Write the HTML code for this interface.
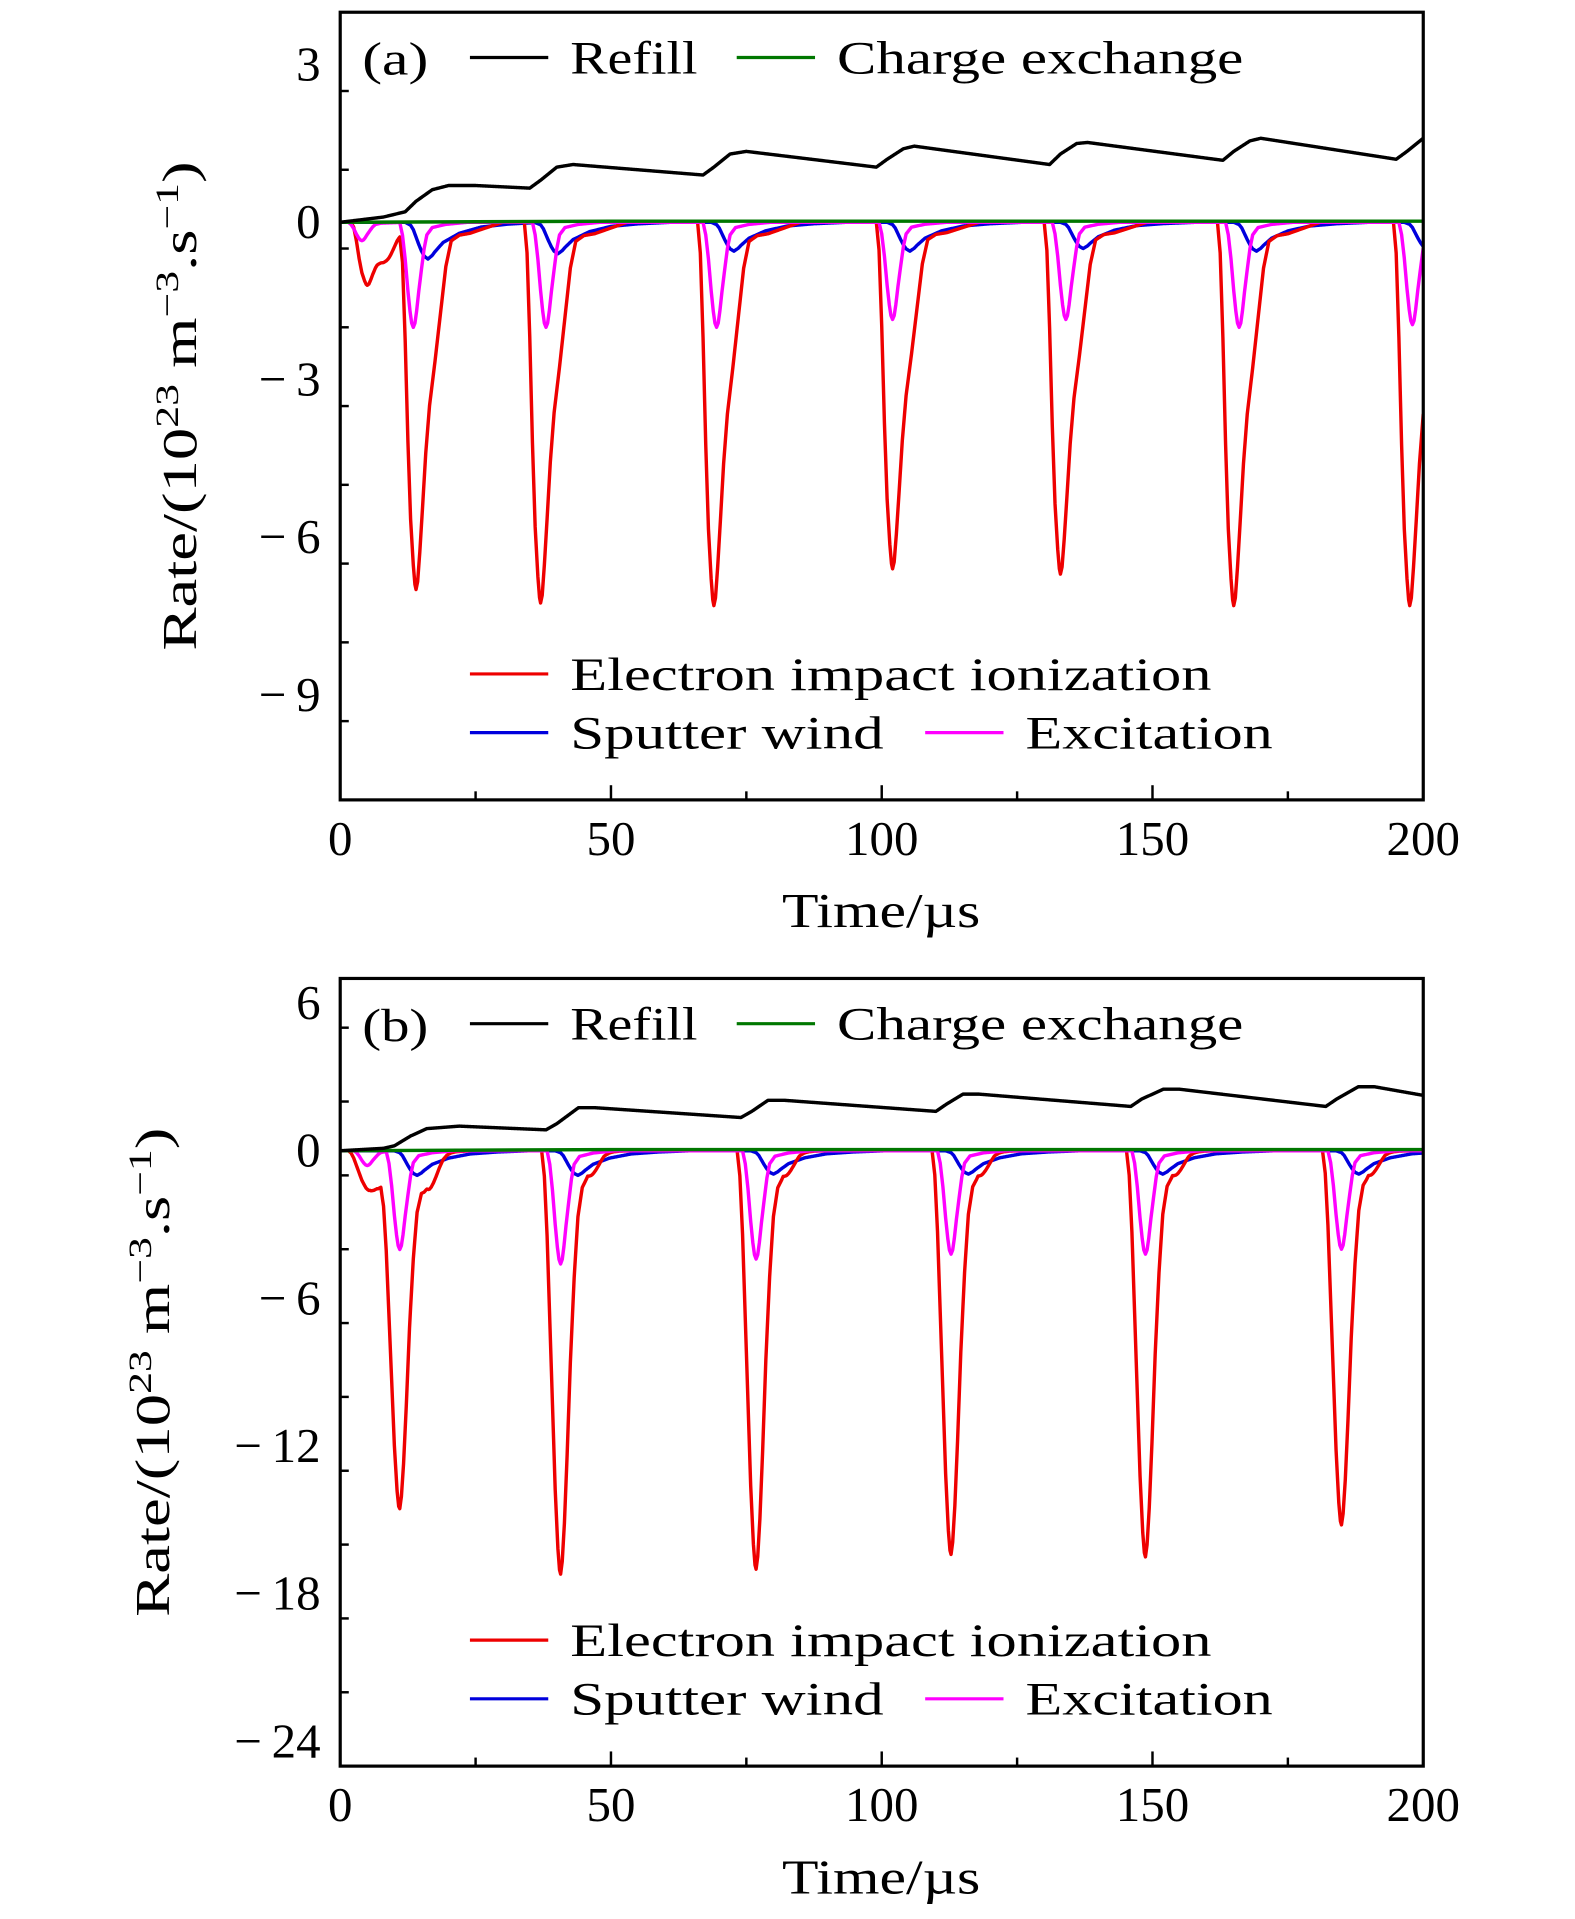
<!DOCTYPE html>
<html><head><meta charset="utf-8"><style>
html,body{margin:0;padding:0;background:#fff}
svg{display:block}
text{font-family:"Liberation Serif","DejaVu Serif",serif;fill:#000}
</style></head><body>
<svg id="fig" width="1575" height="1919" viewBox="0 0 1287 1569" preserveAspectRatio="none" xmlns="http://www.w3.org/2000/svg">
</svg>
<script>
// ---------- Panel (a) data ----------
const aTicksX = [0, 50, 100, 150, 200];
const aTicksY = [3, 0, -3, -6, -9];
const aTickLabelsY = ["3", "0", "\u22123", "\u22126", "\u22129"];
const aRedTimes = [5, 9, 14, 37, 69, 102, 133, 165, 197.5];
const aRedDepths = [-1.2, -0.3, -6.9, -7.25, -7.3, -6.6, -6.7, -7.3, -7.3];
const aMagTimes = [4, 13.5, 38, 69.5, 102, 134, 166, 198];
const aMagDepths = [-0.35, -2.0, -2.0, -2.0, -1.85, -1.85, -2.0, -1.95];
const aBlueTimes = [13, 37, 69.5, 102, 134, 166, 197.5];
const aBlueDepths = [-0.7, -0.6, -0.55, -0.55, -0.5, -0.55, -0.5];
const aRefillT = [0, 8, 12, 14, 17, 20, 25, 35, 37, 40, 43, 67, 69, 72, 75, 99, 101, 104, 106, 131, 133, 136, 138, 163, 165, 168, 170, 195, 197, 200];
const aRefillV = [0, 0.1, 0.2, 0.4, 0.62, 0.7, 0.7, 0.65, 0.8, 1.05, 1.1, 0.9, 1.05, 1.3, 1.35, 1.05, 1.2, 1.4, 1.45, 1.1, 1.3, 1.5, 1.52, 1.18, 1.35, 1.55, 1.6, 1.2, 1.35, 1.6];
const aChargeT = [0, 50, 100, 150, 200];
const aChargeV = [0, 0.02, 0.02, 0.02, 0.02];

// ---------- Panel (b) data ----------
const bTicksX = [0, 50, 100, 150, 200];
const bTicksY = [6, 0, -6, -12, -18, -24];
const bTickLabelsY = ["6", "0", "\u22126", "\u221212", "\u221218", "\u221224"];
const bRedTimes = [5, 8, 11, 16.5, 40.7, 46.5, 76.8, 82.5, 112.8, 118.5, 148.7, 154.5, 184.9, 190.5];
const bRedDepths = [-1.5, -1.1, -14.3, -1.2, -17.2, -0.6, -17.0, -0.6, -16.4, -0.6, -16.5, -0.6, -15.2, -0.6];
const bMagTimes = [5, 11, 40.7, 76.8, 112.8, 148.7, 184.9];
const bMagDepths = [-0.6, -4.0, -4.6, -4.4, -4.2, -4.2, -4.0];
const bBlueTimes = [11, 40.7, 76.8, 112.8, 148.7, 184.9];
const bBlueDepths = [-1.0, -1.0, -0.95, -0.95, -0.95, -0.95];
const bRefillT = [0, 8, 10, 13, 16, 22, 38, 40, 44, 47, 74, 76, 79, 82, 110, 112, 115, 118, 146, 148, 152, 155, 182, 184, 188, 191, 200];
const bRefillV = [0, 0.1, 0.2, 0.6, 0.9, 1.0, 0.85, 1.1, 1.75, 1.75, 1.35, 1.6, 2.05, 2.05, 1.6, 1.9, 2.3, 2.3, 1.8, 2.1, 2.5, 2.5, 1.8, 2.1, 2.6, 2.6, 2.25];
const bChargeT = [0, 50, 100, 150, 200];
const bChargeV = [0, 0.05, 0.05, 0.05, 0.05];

// pulse profile shapes (offset µs, fraction of depth)
const aRedShapeDt = [-3, -2.5, -2, -1.5, -1, -0.5, -0.2, 0, 0.3, 0.7, 1.2, 1.8, 2.5, 3.5, 4.5, 5.5, 6.5, 8, 10, 13, 16];
const aRedShapeF  = [0, 0.08, 0.3, 0.58, 0.8, 0.93, 0.985, 1, 0.98, 0.9, 0.78, 0.63, 0.5, 0.38, 0.25, 0.12, 0.05, 0.035, 0.03, 0.015, 0];
const bRedShapeDt = [-3.5, -3, -2.5, -2, -1.5, -1, -0.5, -0.2, 0, 0.3, 0.7, 1.2, 1.8, 2.5, 3.2, 4, 5, 8];
const bRedShapeF  = [0, 0.06, 0.2, 0.4, 0.6, 0.8, 0.94, 0.99, 1, 0.97, 0.88, 0.72, 0.5, 0.3, 0.15, 0.07, 0.03, 0];
const magShapeDt = [-2.5, -2, -1.5, -1, -0.6, -0.3, 0, 0.3, 0.6, 1, 1.5, 2, 2.5, 3.5, 6, 10];
const magShapeF  = [0, 0.12, 0.35, 0.65, 0.85, 0.96, 1, 0.96, 0.85, 0.66, 0.45, 0.25, 0.12, 0.05, 0.02, 0];
const blueShapeDt = [-1, 0, 0.5, 1, 1.5, 2, 2.5, 3.2, 4, 4.5, 6, 9, 13, 18, 24];
const blueShapeF  = [0, 0.08, 0.2, 0.4, 0.6, 0.78, 0.92, 1, 0.9, 0.8, 0.55, 0.3, 0.13, 0.05, 0];

const NS = "http://www.w3.org/2000/svg";
const svg = document.getElementById("fig");
function mk(tag, attrs, parent) {
  const e = document.createElementNS(NS, tag);
  for (const k in attrs) e.setAttribute(k, attrs[k]);
  (parent || svg).appendChild(e);
  return e;
}
function interp(xs, ys, x) {
  if (x <= xs[0]) return ys[0];
  if (x >= xs[xs.length - 1]) return ys[ys.length - 1];
  for (let i = 1; i < xs.length; i++) {
    if (x <= xs[i]) { const f = (x - xs[i-1]) / (xs[i] - xs[i-1]); return ys[i-1] + f * (ys[i] - ys[i-1]); }
  }
  return 0;
}
function pulseValue(times, depths, sdt, sf, t) {
  let v = 0;
  for (let i = 0; i < times.length; i++) {
    const d = t - times[i];
    if (d > sdt[0] && d < sdt[sdt.length - 1]) v += depths[i] * interp(sdt, sf, d);
  }
  return v;
}

function panel(cfg) {
  const L = 278, R = 1163, T = cfg.top, B = cfg.top + 644;
  const xs = t => L + (t - 0) / 200 * (R - L);
  const ys = v => T + (cfg.ymax - v) / (cfg.ymax - cfg.ymin) * (B - T);
  const g = mk("g", {});
  
  
  const clipId = "clip" + cfg.name;
  const cp = mk("clipPath", {id: clipId}, g);
  mk("rect", {x: L, y: T, width: R - L, height: B - T}, cp);
  const plot = mk("g", {"clip-path": "url(#" + clipId + ")"}, g);
  
  

  function line(pts, color, nm) {
    const p = mk("polyline", {points: pts.map(q => q[0].toFixed(2) + "," + q[1].toFixed(2)).join(" "), fill: "none", stroke: color, "stroke-width": 2.8, "stroke-linejoin": "round"}, plot);
    
    
  }
  function sampled(fn) { const pts = []; for (let t = 0; t <= 200.001; t += 0.1) pts.push([xs(t), ys(fn(t))]); return pts; }
  line(sampled(t => pulseValue(cfg.blueT, cfg.blueD, blueShapeDt, blueShapeF, t)), "#0000dd", "sputter-wind-line");
  line(sampled(t => pulseValue(cfg.redT, cfg.redD, cfg.redDt, cfg.redF, t)), "#ee0000", "electron-impact-ionization-line");
  line(sampled(t => pulseValue(cfg.magT, cfg.magD, magShapeDt, magShapeF, t)), "#ff00ff", "excitation-line");
  line(cfg.chT.map((t, i) => [xs(t), ys(cfg.chV[i])]), "#007700", "charge-exchange-line");
  line(sampled(t => interp(cfg.refT, cfg.refV, t)), "#000000", "refill-line");

  const fr = mk("rect", {x: L, y: T, width: R - L, height: B - T, fill: "none", stroke: "#000", "stroke-width": 2.6}, g);
  
  
  for (let t = 0; t <= 200; t += 25) {
    const major = t % 50 === 0, len = major ? 12 : 7;
    mk("line", {x1: xs(t), x2: xs(t), y1: B, y2: B - len, stroke: "#000", "stroke-width": 2}, g);
  }
  cfg.tx.forEach(t => {
    const tx = mk("text", {x: xs(t), y: B + 45, "font-size": 40, "text-anchor": "middle"}, g);
    tx.textContent = String(t);
    
    
  });
  for (let v = cfg.ymin; v <= cfg.ymax; v += cfg.minor) {
    const major = Math.abs(Math.round(v / cfg.major) * cfg.major - v) < 1e-6;
    if (ys(v) < T + 2 || ys(v) > B - 2) continue;
    mk("line", {x1: L, x2: L + (major ? 12 : 7), y1: ys(v), y2: ys(v), stroke: "#000", "stroke-width": 2}, g);
  }
  cfg.ty.forEach((v, i) => {
    const tx = mk("text", {x: 262, y: ys(v) + 13, "font-size": 40, "text-anchor": "end"}, g);
    tx.textContent = cfg.tyl[i].replace("\u2212", "\u2212\u2009");
    
    
  });
  const xt = mk("text", {x: 720, y: B + 104, "font-size": 40, "text-anchor": "middle", textLength: 162, lengthAdjust: "spacingAndGlyphs"}, g);
  xt.textContent = "Time/\u00b5s";
  
  
  const yt = mk("text", {x: 0, y: 0, "font-size": 40, "text-anchor": "middle", textLength: 400, lengthAdjust: "spacingAndGlyphs", transform: "translate(" + cfg.ytx + "," + (T + 322) + ") rotate(-90)"}, g);
  yt.innerHTML = 'Rate/(10<tspan baseline-shift="super" font-size="27">23</tspan> m<tspan baseline-shift="super" font-size="27">\u22123</tspan>.s<tspan baseline-shift="super" font-size="27">\u22121</tspan>)';
  
  
  const pl = mk("text", {x: 296, y: T + 51, "font-size": 38, textLength: 54, lengthAdjust: "spacingAndGlyphs"}, g);
  pl.textContent = cfg.label;
  
  
  function leg(x1, y, color, label, tlen, nm) {
    const lg = mk("g", {}, g);
    
    
    mk("line", {x1: x1, x2: x1 + 64, y1: y, y2: y, stroke: color, "stroke-width": 2.6}, lg);
    const tx = mk("text", {x: x1 + 82, y: y + 13, "font-size": 38, textLength: tlen, lengthAdjust: "spacingAndGlyphs"}, lg);
    tx.textContent = label;
  }
  leg(384, T + 37, "#000", "Refill", 104, "legend-refill");
  leg(602, T + 37, "#007700", "Charge exchange", 332, "legend-charge-exchange");
  leg(384, T + 541, "#ee0000", "Electron impact ionization", 524, "legend-electron-impact-ionization");
  leg(384, T + 589, "#0000dd", "Sputter wind", 256, "legend-sputter-wind");
  leg(756, T + 589, "#ff00ff", "Excitation", 202, "legend-excitation");
}

panel({name: "panel-a", label: "(a)", top: 10, ymin: -11, ymax: 4, major: 3, minor: 1.5, ytx: 160,
  tx: aTicksX, ty: aTicksY, tyl: aTickLabelsY,
  redT: aRedTimes, redD: aRedDepths, redDt: aRedShapeDt, redF: aRedShapeF,
  magT: aMagTimes, magD: aMagDepths, blueT: aBlueTimes, blueD: aBlueDepths,
  refT: aRefillT, refV: aRefillV, chT: aChargeT, chV: aChargeV});
panel({name: "panel-b", label: "(b)", top: 800, ymin: -25, ymax: 7, major: 6, minor: 3, ytx: 138,
  tx: bTicksX, ty: bTicksY, tyl: bTickLabelsY,
  redT: bRedTimes, redD: bRedDepths, redDt: bRedShapeDt, redF: bRedShapeF,
  magT: bMagTimes, magD: bMagDepths, blueT: bBlueTimes, blueD: bBlueDepths,
  refT: bRefillT, refV: bRefillV, chT: bChargeT, chV: bChargeV});
</script>
</body></html>
